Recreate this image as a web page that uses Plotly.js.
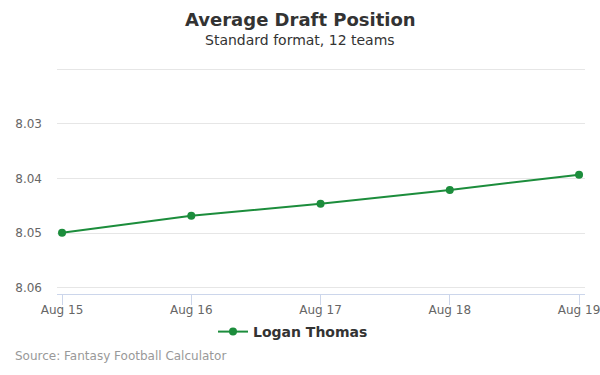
<!DOCTYPE html>
<html>
<head>
<meta charset="utf-8">
<script src="https://cdn.plot.ly/plotly-3.0.1.min.js"></script>
<style>html,body{margin:0;padding:0;background:#fff;}#chart{width:600px;height:375px;}</style>
</head>
<body>
<div id="chart"></div>
<script>
const dates = ["Aug 15", "Aug 16", "Aug 17", "Aug 18", "Aug 19"];
const adp = [8.0499, 8.0468, 8.0446, 8.0421, 8.0393];
const seriesName = "Logan Thomas";
const yTicks = [8.02, 8.03, 8.04, 8.05, 8.06];
const yTickLabels = ["", "8.03", "8.04", "8.05", "8.06"];

const green = "#1c8d3c";
const fontFam = "DejaVu Sans, sans-serif";
const plotTop = 64, plotBottom = 294, plotH = plotBottom - plotTop;
const py = p => (plotBottom - p) / plotH;
const px = p => (p - 57) / 528;

const trace = {
  x: dates, y: adp, type: "scatter", mode: "lines+markers", name: seriesName,
  line: {color: green, width: 2}, marker: {color: green, size: 8},
  hoverinfo: "none"
};

const layout = {
  width: 600, height: 375,
  margin: {l: 57, r: 15, t: plotTop, b: 375 - plotBottom},
  paper_bgcolor: "#fff", plot_bgcolor: "#fff",
  font: {family: fontFam, color: "#666", size: 12},
  showlegend: true,
  legend: {orientation: "h", x: px(293), xanchor: "center", y: py(332), yanchor: "middle",
           bgcolor: "rgba(0,0,0,0)",
           font: {family: fontFam, size: 14, color: "#333", weight: "bold"}, itemwidth: 30},
  xaxis: {type: "category", range: [-0.039, 4.046], showgrid: false, zeroline: false,
          showline: true, linecolor: "#ccd6eb", linewidth: 1,
          ticks: "outside", ticklen: 10, tickcolor: "#ccd6eb", ticklabelstandoff: -5,
          tickfont: {size: 12, color: "#666"}, fixedrange: true},
  yaxis: {range: [8.0611, 8.01908], tickvals: yTicks, ticktext: yTickLabels,
          showgrid: true, gridcolor: "#e6e6e6", gridwidth: 1, zeroline: false,
          showline: false, ticks: "", ticklabelstandoff: 14,
          tickfont: {size: 12, color: "#666"}, fixedrange: true},
  annotations: [
    {text: "<b>Average Draft Position</b>", xref: "paper", yref: "paper", x: px(300), y: py(19),
     xanchor: "center", yanchor: "middle", showarrow: false, font: {family: fontFam, size: 18, color: "#333"}},
    {text: "Standard format, 12 teams", xref: "paper", yref: "paper", x: px(300), y: py(40),
     xanchor: "center", yanchor: "middle", showarrow: false, font: {family: fontFam, size: 14, color: "#333"}},
    {text: "Source: Fantasy Football Calculator", xref: "paper", yref: "paper", x: px(13), y: py(356),
     xanchor: "left", yanchor: "middle", showarrow: false, font: {family: fontFam, size: 12, color: "#999"}}
  ]
};

Plotly.newPlot("chart", [trace], layout, {displayModeBar: false, staticPlot: true});
</script>
</body>
</html>
